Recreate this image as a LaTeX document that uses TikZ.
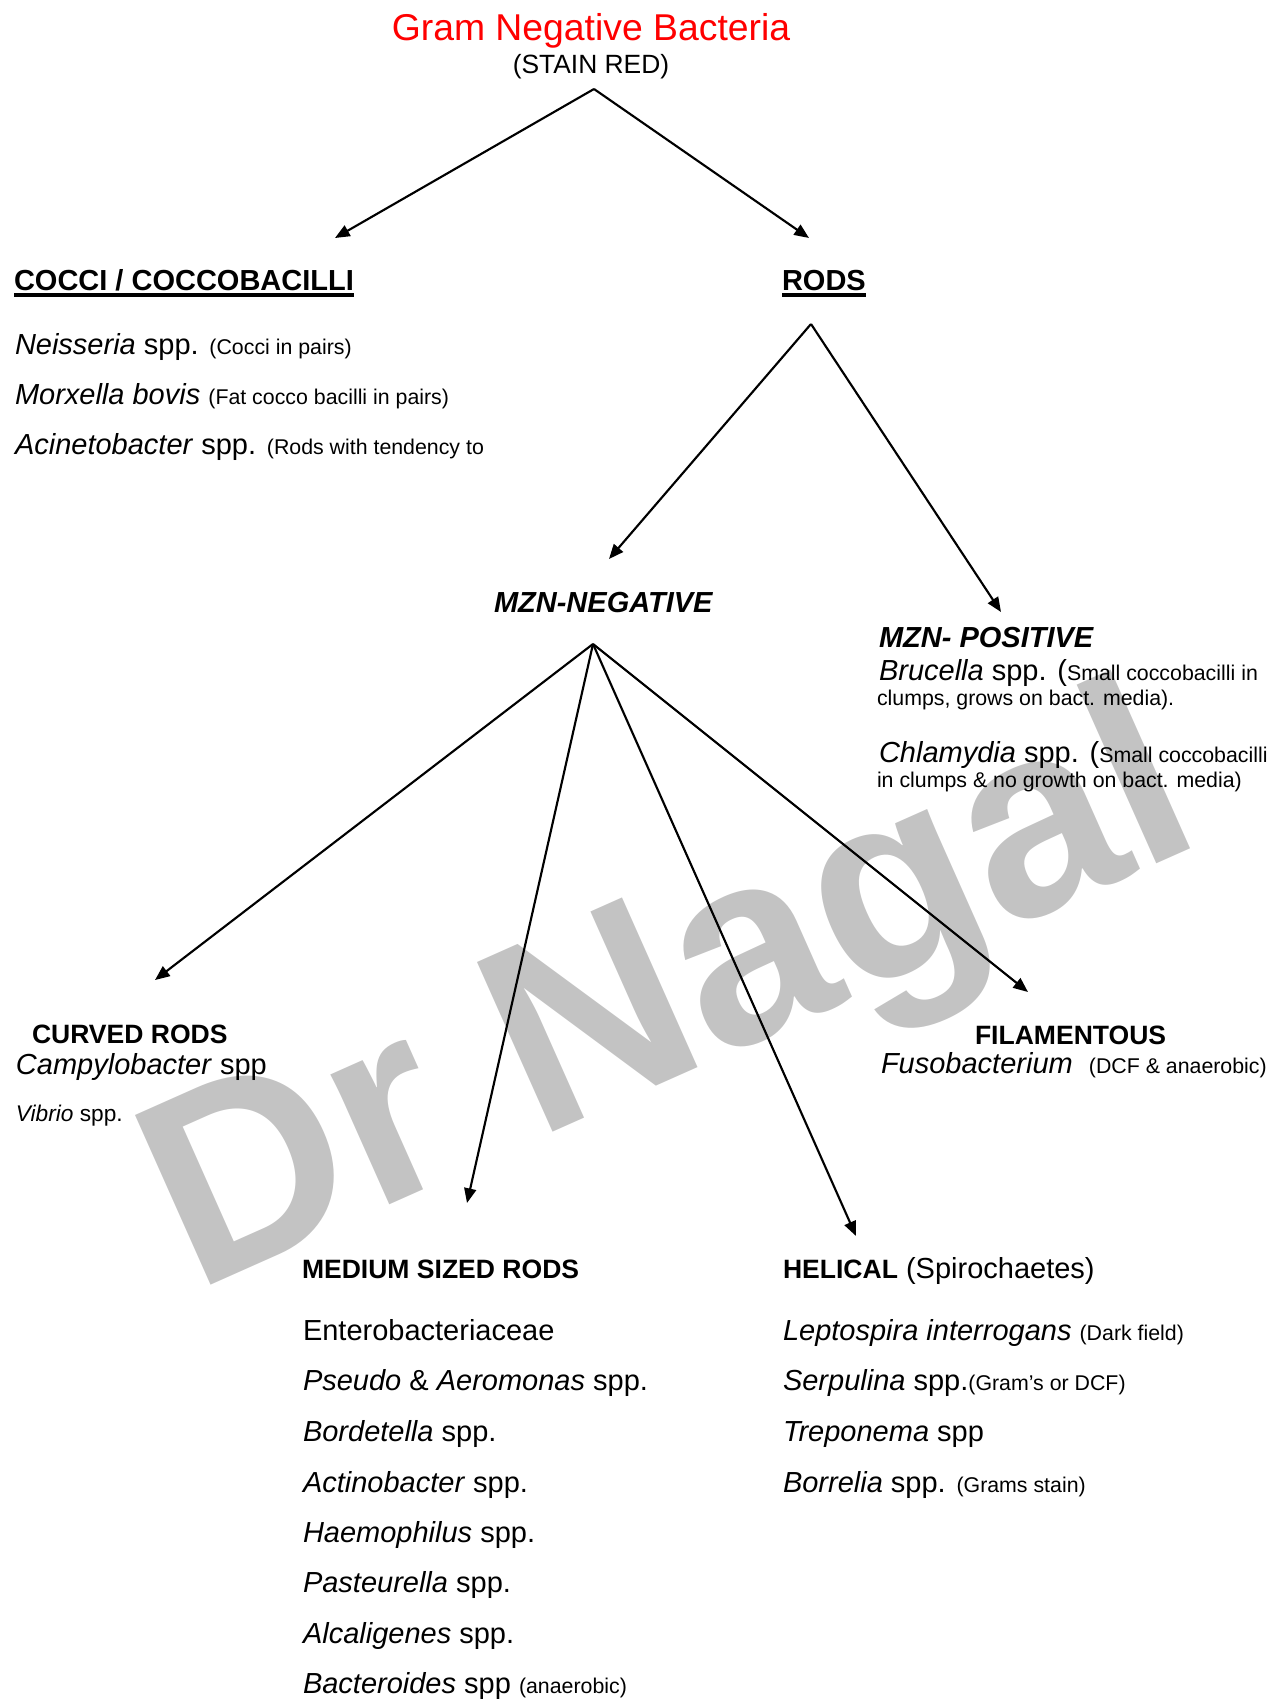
\documentclass[tikz,border=0pt]{standalone}
\usepackage{fontspec}
\setmainfont{Liberation Sans}
\usetikzlibrary{arrows.meta}
\definecolor{wmgray}{RGB}{195,195,195}
\definecolor{titlered}{RGB}{255,0,0}
\newcommand\szTitle{\fontsize{28pt}{32pt}\selectfont}
\newcommand\szSub{\fontsize{19.8pt}{23pt}\selectfont}
\newcommand\szHead{\fontsize{21.75pt}{26pt}\selectfont}
\newcommand\szHeadB{\fontsize{19.9pt}{24pt}\selectfont}
\newcommand\szBody{\fontsize{21.75pt}{26pt}\selectfont}
\newcommand\szSmall{\fontsize{16pt}{19pt}\selectfont}
\newcommand\szVib{\fontsize{17pt}{20pt}\selectfont}
\begin{document}
\begin{tikzpicture}[x=0.75pt,y=-0.75pt,
  every node/.style={inner sep=0pt, outer sep=0pt},
  txt/.style={anchor=base west, font=\szBody},
  headA/.style={anchor=base west, font=\szHead\bfseries},
  headB/.style={anchor=base west, font=\szHeadB\bfseries},
  arr/.style={-{Triangle[length=11pt,width=9pt]}, line width=1.6pt},
  uline/.style={line width=2.4pt}]
\useasboundingbox (0,0) rectangle (1280,1699);
% watermark
\node[anchor=base west, rotate=24, text=wmgray,
      font=\fontsize{202.5pt}{240pt}\selectfont\bfseries] (wmark) at (194,1292) {Dr Nagal};

% title
\node[anchor=base, text=titlered, font=\szTitle] (title) at (591,40) {Gram Negative Bacteria};
\node[anchor=base, font=\szSub] (sub) at (591,73) {(STAIN RED)};

% level 1
\node[headA] (cocci) at (14,290) {COCCI / COCCOBACILLI};
\node[headA] (rods) at (782,290) {RODS};
\draw[uline] ([yshift=-3.8pt]cocci.base west) -- ([yshift=-3.8pt]cocci.base east);
\draw[uline] ([yshift=-3.8pt]rods.base west) -- ([yshift=-3.8pt]rods.base east);

\node[txt] (neis) at (15,354) {\textit{Neisseria} spp. {\szSmall (Cocci in pairs)}};
\node[txt] (morx) at (15,404) {\textit{Morxella bovis} {\szSmall (Fat cocco bacilli in pairs)}};
\node[txt] (acin) at (15,454) {\textit{Acinetobacter} spp. {\szSmall (Rods with tendency to}};

% level 2
\node[anchor=base west, font=\szHead\bfseries\itshape] (mzneg) at (494,612) {MZN-NEGATIVE};
\node[anchor=base west, font=\szHead\bfseries\itshape] (mzpos) at (879,647) {MZN- POSITIVE};
\node[txt] (bruc) at (879,680) {\textit{Brucella} spp. ({\szSmall Small coccobacilli in}};
\node[txt, font=\szSmall] (bruc2) at (877,705) {clumps, grows on bact. media).};
\node[txt] (chla) at (879,762) {\textit{Chlamydia} spp. ({\szSmall Small coccobacilli}};
\node[txt, font=\szSmall] (chla2) at (877,787) {in clumps \& no growth on bact. media)};

% level 3
\node[headB] (curved) at (32,1043) {CURVED RODS};
\node[txt] (campy) at (16,1074) {\textit{Campylobacter} spp};
\node[txt, font=\szVib] (vib) at (16,1121) {\textit{Vibrio} spp.};

\node[headB] (fila) at (975,1044) {FILAMENTOUS};
\node[txt] (fuso) at (881,1073) {\textit{Fusobacterium}~ {\szSmall (DCF \& anaerobic)}};

\node[headB] (medium) at (302,1278) {MEDIUM SIZED RODS};
\node[txt] (m1) at (303,1340) {Enterobacteriaceae};
\node[txt] (m2) at (303,1390) {\textit{Pseudo} \& \textit{Aeromonas} spp.};
\node[txt] (m3) at (303,1441) {\textit{Bordetella} spp.};
\node[txt] (m4) at (303,1492) {\textit{Actinobacter} spp.};
\node[txt] (m5) at (303,1542) {\textit{Haemophilus} spp.};
\node[txt] (m6) at (303,1592) {\textit{Pasteurella} spp.};
\node[txt] (m7) at (303,1643) {\textit{Alcaligenes} spp.};
\node[txt] (m8) at (303,1693) {\textit{Bacteroides} spp {\szSmall (anaerobic)}};

\node[txt] (helical) at (783,1278) {{\szHeadB\bfseries HELICAL} (Spirochaetes)};
\node[txt] (h1) at (783,1340) {\textit{Leptospira interrogans} {\szSmall (Dark field)}};
\node[txt] (h2) at (783,1390) {\textit{Serpulina} spp.{\szSmall (Gram’s or DCF)}};
\node[txt] (h3) at (783,1441) {\textit{Treponema} spp};
\node[txt] (h4) at (783,1492) {\textit{Borrelia} spp. {\szSmall (Grams stain)}};

% connectors
\coordinate (apex1) at (594,89);
\coordinate (tipCocci) at (335,238);
\coordinate (tipRods) at (809,238);
\coordinate (apex2) at (811,324);
\coordinate (tipNeg) at (609,559);
\coordinate (tipPos) at (1001,612);
\coordinate (apex3) at (593,644);
\coordinate (tipCurved) at (155,980);
\coordinate (tipMedium) at (467,1203);
\coordinate (tipHelical) at (856,1236);
\coordinate (tipFila) at (1028,992);

\draw[arr] (apex1) -- (tipCocci);
\draw[arr] (apex1) -- (tipRods);
\draw[arr] (apex2) -- (tipNeg);
\draw[arr] (apex2) -- (tipPos);
\draw[arr] (apex3) -- (tipCurved);
\draw[arr] (apex3) -- (tipMedium);
\draw[arr] (apex3) -- (tipHelical);
\draw[arr] (apex3) -- (tipFila);
\end{tikzpicture}
\end{document}
